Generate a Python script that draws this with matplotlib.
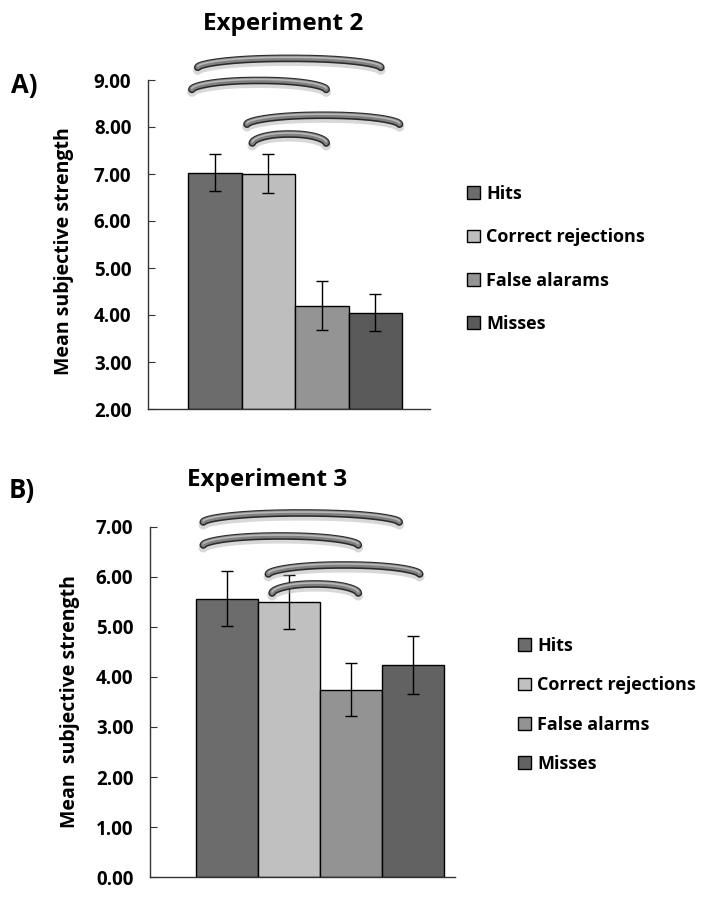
import numpy as np
import matplotlib
matplotlib.use("Agg")
import matplotlib.pyplot as plt

plt.rcParams['font.family'] = ['Open Sans', 'DejaVu Sans']
plt.rcParams['font.weight'] = 'bold'

# data
conditions = ['Hits', 'Correct rejections', 'False alarams', 'Misses']
conditions_b = ['Hits', 'Correct rejections', 'False alarms', 'Misses']
exp2_means = [7.03, 7.01, 4.20, 4.05]
exp2_err = [0.40, 0.41, 0.52, 0.39]
exp3_means = [5.57, 5.51, 3.75, 4.24]
exp3_err = [0.55, 0.54, 0.53, 0.58]

bar_colors = ['#6c6c6c', '#bebebe', '#949494', '#5a5a5a']
bar_colors_b = ['#6c6c6c', '#c0c0c0', '#939393', '#626262']

# significance arcs: (start, end) in bar units, and level of the arc ends
arcs2_span = [(-0.32, 3.1), (-0.43, 2.08), (0.6, 3.45), (0.7, 2.08)]
arcs2_level = [9.27, 8.80, 8.06, 7.66]
arcs3_span = [(-0.38, 2.78), (-0.38, 2.12), (0.67, 3.11), (0.73, 2.12)]
arcs3_level = [7.10, 6.64, 6.06, 5.68]


def draw_arc(ax, x0, x1, y0, rise):
    t = np.linspace(0, 1, 200)
    x = x0 + (x1 - x0) * t
    y = y0 + rise * (1 - np.abs(2 * t - 1) ** 2.2) ** 0.6
    # shadow
    ax.plot(x, y - rise * 0.3, color='#aaaaaa', lw=7, alpha=0.45,
            solid_capstyle='round', clip_on=False, zorder=4)
    ax.plot(x, y, color='#2a2a2a', lw=5.5, solid_capstyle='round',
            clip_on=False, zorder=5)
    ax.plot(x, y + rise * 0.03, color='#808080', lw=3.6, solid_capstyle='round',
            clip_on=False, zorder=6)
    ax.plot(x, y + rise * 0.12, color='#b8b8b8', lw=1.2, solid_capstyle='round',
            clip_on=False, zorder=7)


def panel(ax, means, errs, colors, ylim, yticks, xlim, spans, levels, rise):
    x = np.arange(len(means))
    base = ylim[0]
    bars = ax.bar(x, np.array(means) - base, width=1.0, bottom=base,
                  color=colors, edgecolor='black', linewidth=1.0, zorder=2)
    ax.errorbar(x, means, yerr=errs, fmt='none', ecolor='black',
                elinewidth=1.0, capsize=4, capthick=1.0, zorder=3)
    ax.set_ylim(*ylim)
    ax.set_xlim(*xlim)
    ax.set_yticks(yticks)
    ax.set_yticklabels(['%.2f' % v for v in yticks], fontsize=13.5,
                       fontweight='bold')
    ax.set_xticks([])
    for s in ['top', 'right']:
        ax.spines[s].set_visible(False)
    for s in ['left', 'bottom']:
        ax.spines[s].set_color('#333333')
        ax.spines[s].set_linewidth(1.0)
    ax.tick_params(axis='y', direction='in', length=5, color='#333333', pad=12)
    for (a, b), lv in zip(spans, levels):
        draw_arc(ax, a, b, lv, rise)
    return bars


fig = plt.figure(figsize=(7.2, 8.97), dpi=100)

# panel A
axA = fig.add_axes([148 / 720, 1 - 409 / 897, 282 / 720, 329 / 897])
barsA = panel(axA, exp2_means, exp2_err, bar_colors, (2, 9),
              np.arange(2, 10, 1.0), (-1.25, 4.02),
              arcs2_span, arcs2_level, 0.19)
axA.set_ylabel('Mean subjective strength', fontsize=14, fontweight='bold')
axA.yaxis.set_label_coords(-0.262, 0.48)
fig.text(283 / 720, 1 - 24 / 897, 'Experiment 2', ha='center', va='center',
         fontsize=17.5, fontweight='bold')
fig.text(11 / 720, 1 - 85 / 897, 'A)', ha='left', va='center',
         fontsize=18.5, fontweight='bold')
axA.legend(barsA, conditions, loc='upper left',
           bbox_to_anchor=(467 / 720, 1 - 185 / 897),
           bbox_transform=fig.transFigure, frameon=False, fontsize=13,
           handlelength=0.7, handleheight=0.7, handletextpad=0.35,
           labelspacing=1.4, borderaxespad=0, borderpad=0)

# panel B
axB = fig.add_axes([150 / 720, 1 - 877 / 897, 305 / 720, 350 / 897])
barsB = panel(axB, exp3_means, exp3_err, bar_colors_b, (0, 7),
              np.arange(0, 8, 1.0), (-1.24, 3.68),
              arcs3_span, arcs3_level, 0.18)
axB.set_ylabel('Mean  subjective strength', fontsize=14, fontweight='bold')
axB.yaxis.set_label_coords(-0.228, 0.5)
fig.text(267 / 720, 1 - 480 / 897, 'Experiment 3', ha='center', va='center',
         fontsize=17.5, fontweight='bold')
fig.text(9 / 720, 1 - 490 / 897, 'B)', ha='left', va='center',
         fontsize=18.5, fontweight='bold')
axB.legend(barsB, conditions_b, loc='upper left',
           bbox_to_anchor=(518 / 720, 1 - 637 / 897),
           bbox_transform=fig.transFigure, frameon=False, fontsize=13,
           handlelength=0.7, handleheight=0.7, handletextpad=0.35,
           labelspacing=1.18, borderaxespad=0, borderpad=0)

fig.savefig('out.png', dpi=100)
